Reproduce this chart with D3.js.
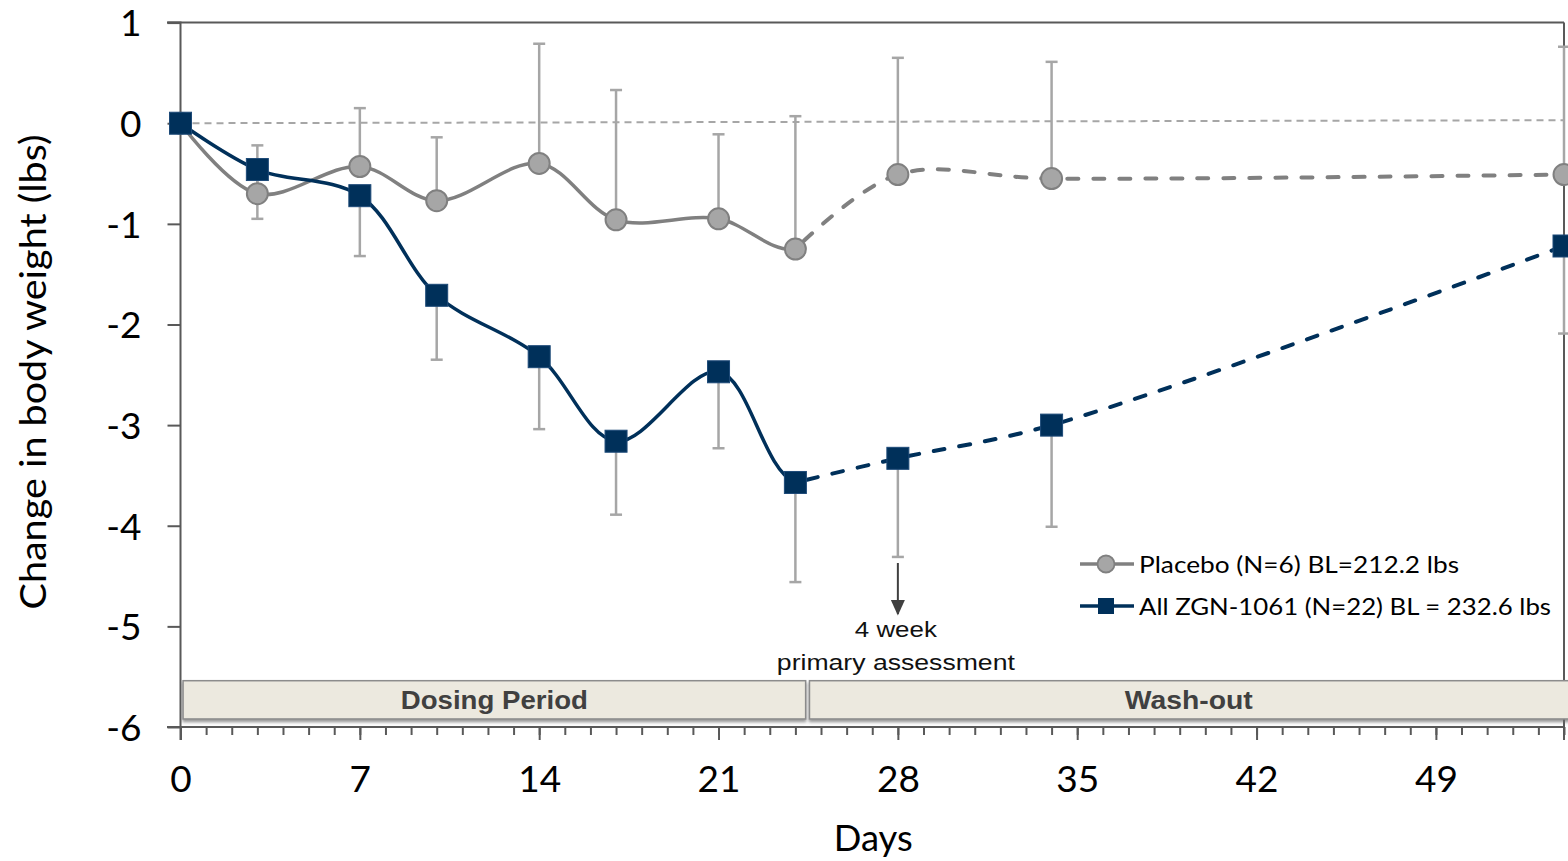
<!DOCTYPE html>
<html>
<head>
<meta charset="utf-8">
<script src="https://cdn.jsdelivr.net/npm/d3@7"></script>
<style>
  html, body { margin: 0; padding: 0; background: #fff; }
  svg { display: block; }
</style>
</head>
<body>
<svg id="chart" width="1568" height="861"></svg>
<script>
// Study days at each visit
const days = [0, 3, 7, 10, 14, 17, 21, 24, 28, 34, 54];

// Mean change in body weight (lbs)
const placeboMean = [0, -0.70, -0.43, -0.77, -0.40, -0.96, -0.95, -1.25, -0.51, -0.55, -0.51];
const placeboUpper = [null, -0.22, 0.15, -0.14, 0.79, 0.33, -0.11, 0.07, 0.65, 0.61, 0.76];

const zgnMean = [0, -0.46, -0.72, -1.71, -2.32, -3.16, -2.47, -3.57, -3.33, -3.00, -1.22];
const zgnLower = [null, -0.95, -1.32, -2.35, -3.04, -3.89, -3.23, -4.56, -4.31, -4.01, -2.09];

// Last day of dosing; later visits are drawn dashed
const lastDosingDay = 24;

// Reference line (no change) from first to last day
const refDays = [0, 54];
const refValues = [0, 0.03];

const yTicks = [1, 0, -1, -2, -3, -4, -5, -6];
const xMajorTicks = [0, 7, 14, 21, 28, 35, 42, 49];
const xMinorTicks = d3.range(0, 55, 1);

const phaseLabels = ["Dosing Period", "Wash-out"];
const phaseStart = [0.1, 24.55];
const phaseEnd = [24.4, 54.2];

const legendLabels = ["Placebo (N=6) BL=212.2 lbs", "All ZGN-1061 (N=22) BL = 232.6 lbs"];
const assessmentDay = 28;
const assessmentLines = ["4 week", "primary assessment"];

const svg = d3.select("#chart");
const x = d3.scaleLinear().domain([0, 54]).range([180.5, 1564]);
const y = d3.scaleLinear().domain([-6, 1]).range([727, 22.6]);

const axisColor = "#595959";
const navy = "#00305a";
const grey = "#808080";
const barGrey = "#a6a6a6";
const tickFont = "Lato, 'Open Sans', sans-serif";

const defs = svg.append("defs");
defs.append("clipPath").attr("id", "dosingClip")
  .append("rect").attr("x", 0).attr("y", 0).attr("width", x(lastDosingDay)).attr("height", 861);
const shadow = defs.append("filter").attr("id", "bandShadow")
  .attr("x", "-5%").attr("y", "-20%").attr("width", "110%").attr("height", "160%");
shadow.append("feDropShadow").attr("dx", 0).attr("dy", 2.5).attr("stdDeviation", 1.4)
  .attr("flood-color", "#6b6b6b").attr("flood-opacity", 0.7);
defs.append("marker").attr("id", "arrowHead")
  .attr("viewBox", "0 0 10 10").attr("refX", 9).attr("refY", 5)
  .attr("markerWidth", 16).attr("markerHeight", 16).attr("markerUnits", "userSpaceOnUse")
  .attr("orient", "auto")
  .append("path").attr("d", "M0,0.5 L10,5 L0,9.5 Z").attr("fill", "#404040");

// Plot frame: top and right borders
svg.append("line").attr("x1", 167).attr("x2", x(54)).attr("y1", y(1)).attr("y2", y(1))
  .attr("stroke", axisColor).attr("stroke-width", 2);
svg.append("line").attr("x1", x(54)).attr("x2", x(54)).attr("y1", y(1)).attr("y2", y(-6) + 13)
  .attr("stroke", axisColor).attr("stroke-width", 2);

// Y axis
const yAxis = d3.axisLeft(y).tickValues(yTicks).tickSize(13).tickPadding(26)
  .tickFormat(d => d3.format("d")(d).replace("−", "-"));
const gy = svg.append("g").attr("transform", `translate(${x(0)},0)`).call(yAxis);
gy.select(".domain").attr("stroke", axisColor).attr("stroke-width", 2)
  .attr("d", `M-13,${y(1)}H0V${y(-6) + 13}`);
gy.selectAll(".tick line").attr("stroke", axisColor).attr("stroke-width", 2);
gy.selectAll(".tick text").attr("font-family", tickFont).attr("font-size", 37)
  .attr("fill", "#000").attr("dy", "0.36em");

// X axis with minor day ticks
const gxMinor = svg.append("g").attr("transform", `translate(0,${y(-6)})`)
  .call(d3.axisBottom(x).tickValues(xMinorTicks).tickSize(8).tickFormat(""));
gxMinor.select(".domain").remove();
gxMinor.selectAll(".tick line").attr("stroke", axisColor).attr("stroke-width", 2);

const gx = svg.append("g").attr("transform", `translate(0,${y(-6)})`)
  .call(d3.axisBottom(x).tickValues(xMajorTicks).tickSize(13).tickPadding(26));
gx.select(".domain").attr("stroke", axisColor).attr("stroke-width", 2)
  .attr("d", `M167,0H${x(54)}`);
gx.selectAll(".tick line").attr("stroke", axisColor).attr("stroke-width", 2);
gx.selectAll(".tick text").attr("font-family", tickFont).attr("font-size", 37)
  .attr("fill", "#000").attr("dy", "0.71em");

// Axis titles
svg.append("text").attr("x", (x(0) + x(54)) / 2 + 1).attr("y", 851).attr("text-anchor", "middle")
  .attr("font-family", tickFont).attr("font-size", 37).attr("fill", "#000")
  .attr("textLength", 79).attr("lengthAdjust", "spacingAndGlyphs").text("Days");
svg.append("text").attr("transform", "translate(46,372) rotate(-90)").attr("text-anchor", "middle")
  .attr("font-family", tickFont).attr("font-size", 37).attr("fill", "#000")
  .attr("textLength", 475).attr("lengthAdjust", "spacingAndGlyphs")
  .text("Change in body weight (lbs)");

// No-change reference line
const refLine = d3.line().x((d, i) => x(refDays[i])).y(d => y(d));
svg.append("path").attr("d", refLine(refValues)).attr("fill", "none")
  .attr("stroke", barGrey).attr("stroke-width", 2).attr("stroke-dasharray", "7,5");

// Error bars: placebo upward, ZGN-1061 downward
function errorBars(means, bounds) {
  const g = svg.append("g").attr("stroke", barGrey).attr("stroke-width", 2.5);
  days.forEach((d, i) => {
    if (bounds[i] === null) return;
    g.append("line").attr("x1", x(d)).attr("x2", x(d)).attr("y1", y(means[i])).attr("y2", y(bounds[i]));
    g.append("line").attr("x1", x(d) - 6).attr("x2", x(d) + 6).attr("y1", y(bounds[i])).attr("y2", y(bounds[i]));
  });
}
errorBars(placeboMean, placeboUpper);
errorBars(zgnMean, zgnLower);

// Smoothed series lines: solid while dosing, dashed in wash-out
const curve = d3.line().x((d, i) => x(days[i])).y(d => y(d)).curve(d3.curveCatmullRom.alpha(0.5));
function seriesLine(values, color) {
  svg.append("path").attr("d", curve(values)).attr("fill", "none")
    .attr("stroke", color).attr("stroke-width", 3.5).attr("clip-path", "url(#dosingClip)");
  const start = days.indexOf(lastDosingDay);
  const washLine = d3.line().x((d, i) => x(days[i + start])).y(d => y(d))
    .curve(d3.curveCatmullRom.alpha(0.5));
  svg.append("path").attr("d", washLine(values.slice(start))).attr("fill", "none")
    .attr("stroke", color).attr("stroke-width", 4).attr("stroke-linecap", "round")
    .attr("stroke-dasharray", "11,15").attr("stroke-dashoffset", -12);
}
seriesLine(placeboMean, grey);
seriesLine(zgnMean, navy);

// Markers
svg.append("g").selectAll("circle").data(placeboMean).join("circle")
  .attr("cx", (d, i) => x(days[i])).attr("cy", d => y(d)).attr("r", 10.5)
  .attr("fill", barGrey).attr("stroke", grey).attr("stroke-width", 2);
svg.append("g").selectAll("rect").data(zgnMean).join("rect")
  .attr("x", (d, i) => x(days[i]) - 11).attr("y", d => y(d) - 11)
  .attr("width", 22).attr("height", 22)
  .attr("fill", navy).attr("stroke", "#1d4a78").attr("stroke-width", 1);

// Study phase band
const band = svg.append("g");
const bandTop = y(-5.54), bandBottom = y(-5.92);
phaseLabels.forEach((label, i) => {
  const x0 = x(phaseStart[i]), x1 = x(phaseEnd[i]);
  band.append("rect").attr("x", x0).attr("y", bandTop).attr("width", x1 - x0)
    .attr("height", bandBottom - bandTop)
    .attr("fill", "#ece9df").attr("stroke", "#8c8c8c").attr("stroke-width", 1.5)
    .attr("filter", "url(#bandShadow)");
  band.append("text").attr("x", (x0 + Math.min(x1, 1568)) / 2).attr("y", (bandTop + bandBottom) / 2 + 9)
    .attr("text-anchor", "middle").attr("font-family", "'Liberation Sans', Arial, sans-serif")
    .attr("font-weight", "bold").attr("font-size", 25).attr("fill", "#404040")
    .attr("textLength", i === 0 ? 187 : 128).attr("lengthAdjust", "spacingAndGlyphs")
    .text(label);
});

// Primary assessment annotation
svg.append("line").attr("x1", x(assessmentDay)).attr("x2", x(assessmentDay))
  .attr("y1", 563).attr("y2", 614).attr("stroke", "#404040").attr("stroke-width", 2)
  .attr("marker-end", "url(#arrowHead)");
assessmentLines.forEach((t, i) => {
  svg.append("text").attr("x", x(assessmentDay) - 2).attr("y", 637 + i * 33)
    .attr("text-anchor", "middle").attr("font-family", "'Liberation Sans', Arial, sans-serif")
    .attr("font-size", 22).attr("fill", "#111")
    .attr("textLength", i === 0 ? 82 : 238).attr("lengthAdjust", "spacingAndGlyphs")
    .text(t);
});

// Legend
const legend = svg.append("g");
const legendY = [564, 606];
const legendWidth = [320, 412];
legendLabels.forEach((label, i) => {
  const color = i === 0 ? grey : navy;
  legend.append("line").attr("x1", 1080).attr("x2", 1134).attr("y1", legendY[i]).attr("y2", legendY[i])
    .attr("stroke", color).attr("stroke-width", 3.5);
  if (i === 0) {
    legend.append("circle").attr("cx", 1106).attr("cy", legendY[i]).attr("r", 8.5)
      .attr("fill", barGrey).attr("stroke", grey).attr("stroke-width", 1.8);
  } else {
    legend.append("rect").attr("x", 1098).attr("y", legendY[i] - 8).attr("width", 16).attr("height", 16)
      .attr("fill", navy);
  }
  legend.append("text").attr("x", 1139).attr("y", legendY[i] + 8.5)
    .attr("font-family", tickFont).attr("font-size", 23).attr("fill", "#000")
    .attr("textLength", legendWidth[i]).attr("lengthAdjust", "spacingAndGlyphs")
    .text(label);
});
</script>
</body>
</html>
